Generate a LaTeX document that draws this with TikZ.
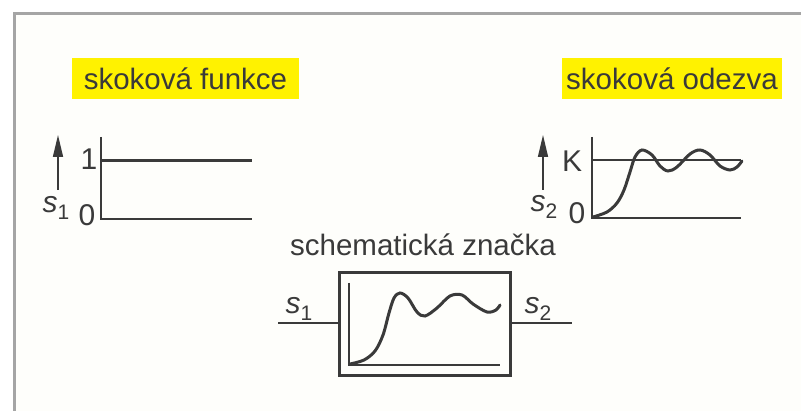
\documentclass[tikz,border=0pt]{standalone}
\usepackage{fontspec}
\setmainfont{Liberation Sans}
\usetikzlibrary{arrows.meta, positioning}
\definecolor{Marker}{RGB}{255, 242, 0}
\definecolor{Ink}{RGB}{58, 58, 58}
\definecolor{FrameGray}{RGB}{165, 165, 165}
\definecolor{Paper}{RGB}{254, 254, 251}
\newcommand{\sig}[1]{\textit{s}\raisebox{-0.22em}{\fontsize{21}{24}\selectfont #1}}

\begin{document}
\begin{tikzpicture}[x=1pt, y=-1pt,
    lbl/.style={text=Ink, font=\fontsize{30}{34}\selectfont, inner sep=0pt},
    title/.style={fill=Marker, text=Ink, font=\fontsize{29.5}{34}\selectfont, minimum height=41pt, inner sep=0pt},
    axis/.style={Ink, line width=2.4pt},
    curve/.style={Ink, line width=3pt, line cap=round},
    up/.style={Ink, line width=1.6pt, -{Triangle[length=22pt, width=10pt]}}]
  \useasboundingbox (0,0) rectangle (801,411);
  % Frame
  \fill[Paper] (14,14) rectangle (801,411);
  \draw[FrameGray, line width=3pt] (14,411) -- (14,14) -- (801,14);
  % Titles
  \node[title, minimum width=227pt] (stepTitle) at (185.5,78.5) {skoková funkce};
  \node[title, minimum width=220pt] (respTitle) at (672,78.5) {skoková odezva};
  % Step function
  \draw[axis] (101,137) -- (101,219) -- (252,219);
  \draw[axis, line width=3pt] (101,161) -- (252,161);
  \node[lbl] (oneA) at (89,159) {1};
  \node[lbl] (zeroA) at (87,215) {0};
  \coordinate (baseA) at (58,190);
  \coordinate (tipA) at (58,135);
  \draw[up] (baseA) -- (tipA);
  \node[lbl] (sigA) at (56,208) {\sig{1}};
  % Step response
  \draw[axis] (592,137) -- (592,218) -- (741,218);
  \draw[Ink, line width=1.3pt] (592,160) -- (741,160);
  \draw[curve] plot[smooth, tension=0.55] coordinates {(593,217) (607,212) (617,203) (624,190) (630,172) (635,157) (642,150) (652,155) (660,166) (668,171) (677,167) (690,154) (700,150) (710,155) (720,166) (730,170) (737,167) (742,161)};
  \node[lbl] (kB) at (572,161) {K};
  \node[lbl] (zeroB) at (577,213) {0};
  \coordinate (baseB) at (543,190);
  \coordinate (tipB) at (543,135);
  \draw[up] (baseB) -- (tipB);
  \node[lbl] (sigB) at (544,207) {\sig{2}};
  % Schematic symbol
  \node[lbl, font=\fontsize{29.5}{34}\selectfont] (blockTitle) at (423,245) {schematická značka};
  \node[draw=Ink, line width=3pt, minimum width=171pt, minimum height=103pt, inner sep=0pt] (block) at (424.5,324.5) {};
  \draw[axis] (349,283) -- (349,365) -- (500,365);
  \draw[curve] plot[smooth, tension=0.55] coordinates {(350,364) (364,360) (375,351) (383,335) (389,313) (394,298) (400,293) (408,298) (417,312) (425,316) (437,308) (450,296) (462,295) (473,304) (487,312) (496,310) (500,305)};
  \coordinate (inS) at (278,323);
  \coordinate (outS) at (572,323);
  \draw[Ink, line width=2pt] (inS) -- (inS -| block.west);
  \draw[Ink, line width=2pt] (block.east |- outS) -- (outS);
  \node[lbl] (sigIn) at (299,309) {\sig{1}};
  \node[lbl] (sigOut) at (538,309) {\sig{2}};
\end{tikzpicture}
\end{document}
